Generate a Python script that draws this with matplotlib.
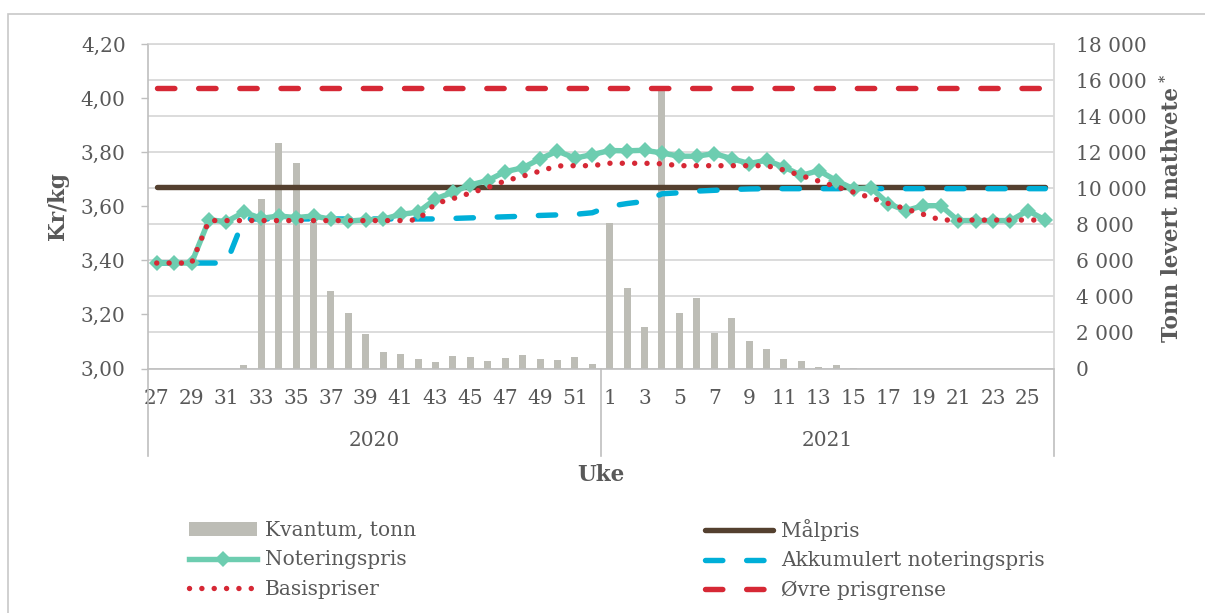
import matplotlib
matplotlib.use("Agg")
import matplotlib.pyplot as plt
import matplotlib.transforms as mtransforms
from matplotlib.patches import Rectangle, Patch
import numpy as np

# ---------------- data ----------------
weeks_2020 = list(range(27, 53))
weeks_2021 = list(range(1, 27))
weeks = weeks_2020 + weeks_2021
years = ["2020", "2021"]

kvantum = [0, 0, 0, 0, 0, 180, 9400, 12500, 11400, 8150, 4300, 3070, 1890,
           890, 780, 520, 370, 690, 630, 430, 610, 740, 520, 480, 630, 240,
           8080, 4480, 2310, 15450, 3090, 3900, 1960, 2790, 1520, 1060, 500,
           400, 70, 180, 30, 0, 0, 0, 0, 0, 0, 0, 0, 0, 0, 0]

noteringspris = [3.39, 3.39, 3.39, 3.550, 3.543, 3.578, 3.555, 3.564, 3.558,
                 3.564, 3.552, 3.545, 3.550, 3.552, 3.570, 3.578, 3.627, 3.652,
                 3.679, 3.695, 3.728, 3.742, 3.775, 3.804, 3.778, 3.791,
                 3.806, 3.805, 3.807, 3.797, 3.785, 3.785, 3.795, 3.776, 3.758,
                 3.770, 3.745, 3.714, 3.732, 3.695, 3.664, 3.668, 3.609, 3.584,
                 3.602, 3.602, 3.547, 3.547, 3.547, 3.547, 3.584, 3.549]

basispriser = [3.39, 3.39, 3.39, 3.547, 3.547, 3.547, 3.547, 3.547, 3.547,
               3.547, 3.547, 3.547, 3.547, 3.547, 3.547, 3.550, 3.610, 3.628,
               3.649, 3.669, 3.694, 3.711, 3.730, 3.749, 3.750, 3.750,
               3.759, 3.759, 3.759, 3.757, 3.750, 3.750, 3.750, 3.750, 3.750,
               3.750, 3.734, 3.713, 3.693, 3.672, 3.652, 3.631, 3.610, 3.590,
               3.570, 3.549, 3.549, 3.549, 3.549, 3.549, 3.549, 3.549]

akkumulert = [3.39, 3.39, 3.39, 3.39, 3.39, 3.553, 3.553, 3.553, 3.553,
              3.553, 3.553, 3.553, 3.553, 3.553, 3.553, 3.553, 3.553, 3.555,
              3.557, 3.559, 3.561, 3.563, 3.566, 3.568, 3.570, 3.576,
              3.600, 3.610, 3.618, 3.646, 3.650, 3.656, 3.659, 3.662, 3.664,
              3.665, 3.665, 3.665, 3.665, 3.665, 3.665, 3.665, 3.665, 3.665,
              3.665, 3.665, 3.665, 3.665, 3.665, 3.665, 3.665, 3.665]

malpris = 3.67
ovre_prisgrense = 4.037

left_ticks = [3.00, 3.20, 3.40, 3.60, 3.80, 4.00, 4.20]
right_ticks = [0, 2000, 4000, 6000, 8000, 10000, 12000, 14000, 16000, 18000]

# ---------------- style ----------------
FONT = "DejaVu Serif"
plt.rcParams["font.family"] = FONT
TXT = "#595959"
FS = 14.5
W_PX, H_PX = 1205, 613

C_BAR = "#bdbdb6"
C_GREEN = "#6dcdb0"
C_RED = "#d62835"
C_BLUE = "#00afd8"
C_BROWN = "#54402f"
C_GRID = "#d9d9d9"
C_AXIS = "#bfbfbf"

fig = plt.figure(figsize=(W_PX / 100, H_PX / 100), dpi=100)

ax_l, ax_r, ax_t, ax_b = 148, 1054, 44, 368.5
ax = fig.add_axes([ax_l / W_PX, 1 - ax_b / H_PX, (ax_r - ax_l) / W_PX,
                   (ax_b - ax_t) / H_PX])
ax2 = ax.twinx()

x = np.arange(len(weeks))

# bars on the (right) tonnage axis
bars = ax.bar(x, kvantum, width=0.4, color=C_BAR, zorder=2,
              label="Kvantum, tonn")
ax.set_ylim(0, 18000)
ax.set_xlim(-0.5, len(weeks) - 0.5)
ax.set_yticks(right_ticks)
ax.set_yticklabels([f"{v:,}".replace(",", " ") for v in right_ticks])
ax.yaxis.set_ticks_position("right")
ax.yaxis.set_label_position("right")
ax.tick_params(axis="y", length=0, pad=15.8, labelsize=FS, labelcolor=TXT)
ax.grid(axis="y", color=C_GRID, lw=1.3, zorder=0)
ax.set_axisbelow(True)

ax.set_xticks(x[::2])
ax.set_xticklabels([str(w) for w in weeks[::2]])
ax.tick_params(axis="x", length=0, pad=15, labelsize=FS, labelcolor=TXT)

for s in ["left", "bottom"]:
    ax.spines[s].set_color(C_AXIS)
    ax.spines[s].set_linewidth(1.2)
for s in ["right", "top"]:
    ax.spines[s].set_color(C_GRID)
    ax.spines[s].set_linewidth(1.3)

# lines on the (left) price axis
lw = 3.9
ax2.plot(x, [ovre_prisgrense] * len(x), color=C_RED, lw=lw,
         linestyle=(0, (3.2, 4.4)), dash_capstyle="round",
         label="Øvre prisgrense", zorder=3)
ax2.plot(x, [malpris] * len(x), color=C_BROWN, lw=lw,
         solid_capstyle="round", label="Målpris", zorder=3)
ax2.plot(x, akkumulert, color=C_BLUE, lw=lw, linestyle=(0, (3.2, 4.4)),
         dash_capstyle="round", label="Akkumulert noteringspris", zorder=4)
ax2.plot(x, noteringspris, color=C_GREEN, lw=lw, marker="D", ms=8.2,
         mew=0, solid_joinstyle="round", label="Noteringspris", zorder=5)
ax2.plot(x, basispriser, color=C_RED, lw=3.9, linestyle=(0, (0.01, 2.27)),
         dash_capstyle="round", label="Basispriser", zorder=6)

ax2.set_ylim(3.0, 4.2)
ax2.set_yticks(left_ticks)
ax2.set_yticklabels([f"{v:.2f}".replace(".", ",") for v in left_ticks])
ax2.yaxis.set_ticks_position("left")
ax2.yaxis.set_label_position("left")
ax2.tick_params(axis="y", direction="out", length=4.8, width=1.0,
                color=C_AXIS, pad=11.3, labelsize=FS, labelcolor=TXT)
for s in ax2.spines.values():
    s.set_visible(False)

# group separators below the category axis
trans = mtransforms.blended_transform_factory(ax.transData, ax.transAxes)
sep_depth = -(456 - ax_b) / (ax_b - ax_t)
for xs in [-0.5, len(weeks_2020) - 0.5, len(weeks) - 0.5]:
    ax.plot([xs, xs], [0, sep_depth], transform=trans, clip_on=False,
            color=C_AXIS, lw=1.2)

# year labels
fig.text(374 / W_PX, 1 - 441 / H_PX, years[0], ha="center", va="center",
         fontsize=FS, color=TXT)
fig.text(827 / W_PX, 1 - 441 / H_PX, years[1], ha="center", va="center",
         fontsize=FS, color=TXT)

# axis titles
fig.text(601 / W_PX, 1 - 475 / H_PX, "Uke", ha="center", va="center",
         fontsize=FS + 1, fontweight="bold", color=TXT)
fig.text(58 / W_PX, 1 - 206 / H_PX, "Kr/kg", ha="center", va="center",
         rotation=90, fontsize=FS + 1, fontweight="bold", color=TXT)
fig.text(1172 / W_PX, 1 - 215 / H_PX, "Tonn levert mathvete", ha="center",
         va="center", rotation=90, fontsize=FS + 1, fontweight="bold",
         color=TXT)
fig.text(1165.5 / W_PX, 1 - 78 / H_PX, "*", ha="center", va="center",
         rotation=90, fontsize=10, fontweight="bold", color=TXT)

# legends
h = {l.get_label(): l for l in ax2.get_lines()}
bar_handle = Patch(facecolor=C_BAR, edgecolor="none")
fpx = FS * 100 / 72
common = dict(frameon=False, borderpad=0, borderaxespad=0,
              handlelength=68 / fpx, handletextpad=8 / fpx, labelspacing=0.52,
              handleheight=0.65,
              fontsize=FS, labelcolor=TXT, loc="upper left", numpoints=1)
leg1 = fig.legend([bar_handle, h["Noteringspris"], h["Basispriser"]],
                  ["Kvantum, tonn", "Noteringspris", "Basispriser"],
                  bbox_to_anchor=(189 / W_PX, 1 - 521 / H_PX), **common)
leg2 = fig.legend([h["Målpris"], h["Akkumulert noteringspris"],
                   h["Øvre prisgrense"]],
                  ["Målpris", "Akkumulert noteringspris", "Øvre prisgrense"],
                  bbox_to_anchor=(705 / W_PX, 1 - 519 / H_PX), **common)

# outer chart frame
fig.add_artist(Rectangle((8 / W_PX, -0.1), 1.2, 1 - 14 / H_PX + 0.1,
                         transform=fig.transFigure, fill=False,
                         edgecolor="#c8c8c8", lw=1.2))

fig.savefig("out.png", dpi=100)
